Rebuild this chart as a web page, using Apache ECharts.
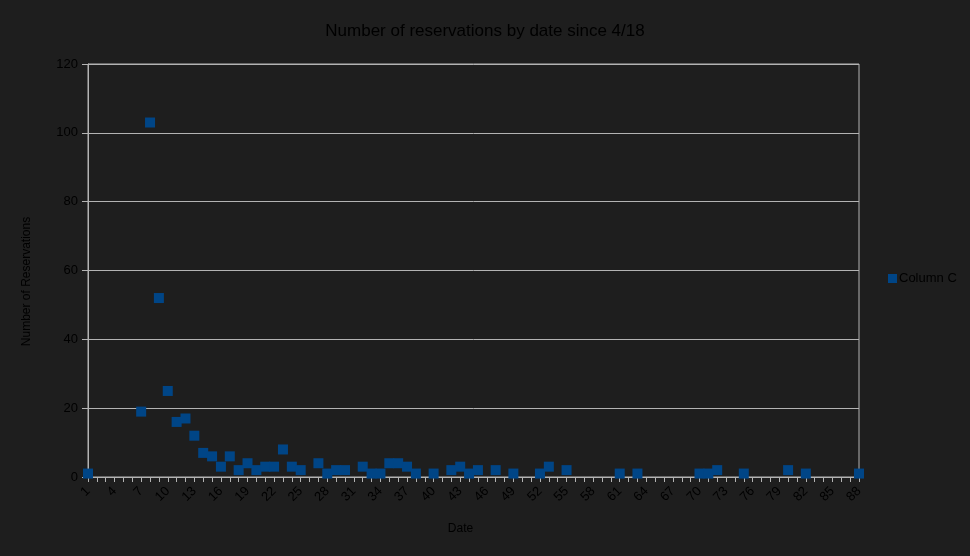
<!DOCTYPE html>
<html>
<head>
<meta charset="utf-8">
<script src="https://cdn.jsdelivr.net/npm/echarts@6/dist/echarts.min.js"></script>
<style>
html,body{margin:0;padding:0;background:#1e1e1e;}
#chart{width:970px;height:556px;}
</style>
</head>
<body>
<div id="chart"></div>
<script>
var dates = [1, 7, 8, 9, 10, 11, 12, 13, 14, 15, 16, 17, 18, 19, 20, 21, 22, 23, 24, 25,
  27, 28, 29, 30, 32, 33, 34, 35, 36, 37, 38, 40, 42, 43, 44, 45, 47, 49, 52, 53,
  55, 61, 63, 70, 71, 72, 75, 80, 82, 88];
var reservations = [1, 19, 103, 52, 25, 16, 17, 12, 7, 6, 3, 6, 2, 4, 2, 3, 3, 8, 3, 2,
  4, 1, 2, 2, 3, 1, 1, 4, 4, 3, 1, 1, 2, 3, 1, 2, 2, 1, 1, 3,
  2, 1, 1, 1, 1, 2, 1, 2, 1, 1];
var yTicks = [0, 20, 40, 60, 80, 100, 120];

var points = dates.map(function (d, i) { return [d, reservations[i]]; });
var gridColor = '#b3b3b3';
var font = 'Liberation Sans, Arial, sans-serif';

var chart = echarts.init(document.getElementById('chart'));
chart.setOption({
  backgroundColor: '#1e1e1e',
  animation: false,
  textStyle: { fontFamily: font },
  title: {
    text: 'Number of reservations by date since 4/18',
    left: 'center',
    top: 18,
    textStyle: { color: '#000000', fontSize: 17, fontWeight: 'normal', fontFamily: font }
  },
  legend: {
    orient: 'vertical',
    left: 883,
    top: 267,
    itemWidth: 9,
    itemHeight: 9,
    itemGap: 4,
    icon: 'rect',
    textStyle: { color: '#000000', fontSize: 13, fontFamily: font, padding: [0, 0, 0, -3] },
    data: ['Column C']
  },
  grid: {
    left: 88, right: 111, top: 64, bottom: 79,
    show: true, borderColor: gridColor, borderWidth: 1, backgroundColor: 'transparent'
  },
  xAxis: {
    type: 'value',
    min: 1, max: 88, interval: 1,
    name: 'Date',
    nameLocation: 'middle',
    nameGap: 46,
    nameTextStyle: { color: '#000000', fontSize: 12, fontFamily: font, padding: [0, 26, 0, 0] },
    axisLine: { show: true, lineStyle: { color: gridColor } },
    axisTick: { show: true, length: 5, lineStyle: { color: gridColor } },
    splitLine: { show: false },
    axisLabel: {
      color: '#000000', fontSize: 13, fontFamily: font, rotate: 45, margin: 12,
      showMinLabel: true, showMaxLabel: true,
      formatter: function (v) { return ((v - 1) % 3 === 0) ? String(v) : ''; }
    }
  },
  yAxis: {
    type: 'value',
    min: yTicks[0], max: yTicks[yTicks.length - 1], interval: 20,
    name: 'Number of Reservations',
    nameLocation: 'middle',
    nameGap: 55,
    nameTextStyle: { color: '#000000', fontSize: 12, fontFamily: font, padding: [0, 22, 0, 0] },
    axisLine: { show: true, lineStyle: { color: gridColor } },
    axisTick: { show: true, length: 6, lineStyle: { color: gridColor } },
    splitLine: { show: true, lineStyle: { color: gridColor, width: 1 } },
    axisLabel: { color: '#000000', fontSize: 13, fontFamily: font, margin: 10 }
  },
  series: [{
    name: 'Column C',
    type: 'scatter',
    symbol: 'rect',
    symbolSize: 10,
    itemStyle: { color: '#004586', opacity: 1 },
    data: points
  }]
});
</script>
</body>
</html>
